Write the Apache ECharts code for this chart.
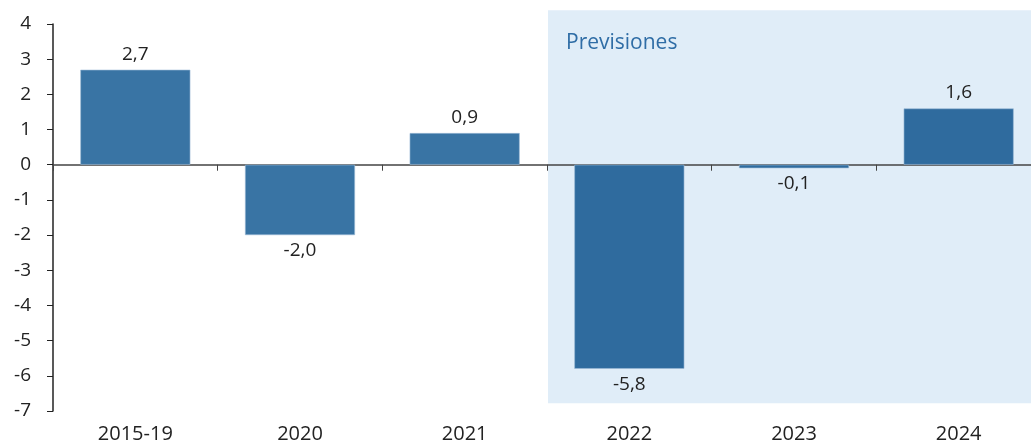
<!DOCTYPE html>
<html>
<head>
<meta charset="utf-8">
<script src="https://cdn.jsdelivr.net/npm/echarts@6/dist/echarts.min.js"></script>
<style>
  html, body { margin: 0; padding: 0; background: #fff; }
  #chart { width: 1031px; height: 447px; }
</style>
</head>
<body>
<div id="chart"></div>
<script>
// datos del gráfico
var categories = ['2015-19', '2020', '2021', '2022', '2023', '2024']
var values = [2.7, -2.0, 0.9, -5.8, -0.1, 1.6]
var forecastStart = '2022' // previsiones desde aquí
var shadeRange = [-6.78, 4.39] // alto de la zona sombreada, en unidades del eje
var yTicks = { min: -7, max: 4, interval: 1 }

var pastColor = '#3974a4'
var forecastColor = '#2f6b9e'
var fontFamily = '"Open Sans", "Noto Sans", sans-serif'

var firstForecast = categories.indexOf(forecastStart)

var chart = echarts.init(document.getElementById('chart'))

chart.setOption({
  animation: false,
  grid: {
    left: 53,
    width: 988,
    top: 24,
    bottom: 36,
    containLabel: false,
    outerBoundsMode: 'none'
  },
  xAxis: [{
    type: 'category',
    data: categories,
    position: 'bottom',
    axisLine: { show: false, onZero: false },
    axisTick: { show: false },
    axisLabel: {
      color: '#222',
      fontSize: 20,
      fontFamily: fontFamily,
      margin: 13
    }
  }, {
    // línea del cero con sus marcas
    type: 'category',
    data: categories,
    position: 'top',
    axisLine: {
      onZero: true,
      lineStyle: { color: '#444', width: 1.5 }
    },
    axisTick: {
      show: true,
      inside: true,
      length: 6,
      lineStyle: { color: '#444' }
    },
    axisLabel: { show: false }
  }],
  yAxis: {
    type: 'value',
    min: yTicks.min,
    max: yTicks.max,
    interval: yTicks.interval,
    splitLine: { show: false },
    axisLine: {
      show: true,
      onZero: false,
      lineStyle: { color: '#222', width: 1.5 }
    },
    axisTick: {
      show: true,
      length: 6,
      lineStyle: { color: '#222' }
    },
    axisLabel: {
      color: '#222',
      fontSize: 19,
      fontFamily: fontFamily,
      margin: 22
    }
  },
  series: [{
    type: 'bar',
    xAxisIndex: 0,
    barWidth: 110,
    z: 1,
    data: values.map(function (v, i) {
      return {
        value: v,
        itemStyle: {
          color: i >= firstForecast ? forecastColor : pastColor,
          borderColor: '#9dbcd6',
          borderWidth: 0.6
        }
      }
    }),
    label: {
      show: true,
      position: 'outside',
      distance: 6,
      color: '#222',
      fontSize: 19,
      fontFamily: fontFamily,
      formatter: function (p) {
        return p.value.toFixed(1).replace('.', ',')
      }
    }
  }]
})

// fondo de "Previsiones", a partir de las escalas del propio gráfico
function drawShade() {
  var c0 = chart.convertToPixel({ xAxisIndex: 0 }, categories[firstForecast])
  var c1 = chart.convertToPixel({ xAxisIndex: 0 }, categories[firstForecast - 1])
  var band = c0 - c1
  var x0 = c0 - band / 2 + 1
  var yTop = chart.convertToPixel({ yAxisIndex: 0 }, shadeRange[1])
  var yBot = chart.convertToPixel({ yAxisIndex: 0 }, shadeRange[0])
  chart.setOption({
    graphic: [{
      type: 'rect',
      z: -10,
      silent: true,
      shape: { x: x0, y: yTop, width: chart.getWidth() - x0, height: yBot - yTop },
      style: { fill: '#e0edf8' }
    }, {
      type: 'text',
      z: 10,
      silent: true,
      left: x0 + 18,
      top: yTop + 22,
      style: {
        text: 'Previsiones',
        fill: '#2f6da6',
        fontSize: 21,
        fontFamily: fontFamily
      }
    }]
  })
}
drawShade()
</script>
</body>
</html>
